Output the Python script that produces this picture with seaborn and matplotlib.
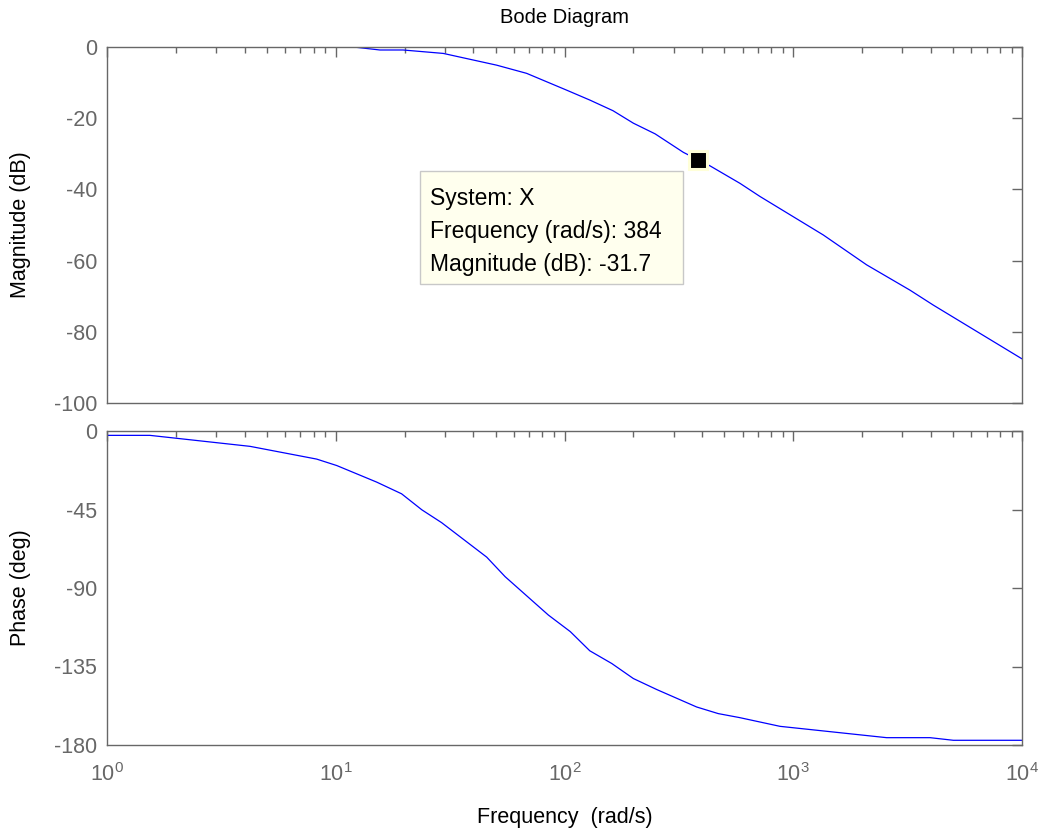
import matplotlib
matplotlib.use("Agg")
import matplotlib.pyplot as plt
from matplotlib.patches import Rectangle
from matplotlib.ticker import LogLocator, FixedLocator, NullFormatter
import numpy as np
import pandas as pd
import seaborn as sns

# Frequency response samples (rad/s, dB, deg)
mag_freq = [1, 12.35, 15.6, 19.7, 29.5, 50.5, 68.3, 102, 129, 163, 200, 249, 331,
            384, 433, 585, 716, 1353, 2094, 3238, 4095, 10000]
mag_db = [0, -0.1, -0.84, -0.84, -1.8, -5.1, -7.4, -12.1, -14.9, -17.9, -21.4, -24.4,
          -29.6, -31.7, -33.4, -38.3, -42.0, -52.8, -61.2, -68.3, -72.5, -87.6]

phase_freq = [1, 1.54, 4.22, 8.25, 10.1, 15.1, 19.4, 23.8, 29.0, 45.7, 55, 85, 106,
              129, 161, 200, 253, 378, 470, 583, 875, 2560, 3963, 5011, 10000]
phase_deg = [-2.5, -2.5, -8.8, -16.1, -19.8, -29.3, -36.0, -45.2, -52.5, -72.3, -83.5,
             -105.5, -115, -126, -133.3, -141.9, -148.2, -158.2, -162, -164.3, -169.3,
             -175.8, -175.8, -177.3, -177.3]

mag_ticks = [0, -20, -40, -60, -80, -100]
phase_ticks = [0, -45, -90, -135, -180]

tip_system = "X"
tip_freq = 384
tip_mag = -31.7

sns.set_theme(style="white")
plt.rcParams["font.family"] = ["Liberation Sans", "DejaVu Sans"]
plt.rcParams["mathtext.fontset"] = "custom"
plt.rcParams["mathtext.rm"] = "Liberation Sans"
plt.rcParams["mathtext.it"] = "Liberation Sans:italic"
plt.rcParams["axes.unicode_minus"] = False

GRAY = "#676767"
FS_TICK = 15.5
FS_LABEL = 15.5
FS_TIP = 16.5

fig = plt.figure(figsize=(10.41, 8.34), dpi=100)
W, H = 1041, 834
x0, x1 = 107, 1022
ax_mag = fig.add_axes([x0 / W, 1 - 403 / H, (x1 - x0) / W, (403 - 47) / H])
ax_ph = fig.add_axes([x0 / W, 1 - 745 / H, (x1 - x0) / W, (745 - 431) / H])

df_mag = pd.DataFrame({"freq": mag_freq, "mag": mag_db})
df_ph = pd.DataFrame({"freq": phase_freq, "phase": phase_deg})

sns.lineplot(data=df_mag, x="freq", y="mag", ax=ax_mag, color="#0000ff",
             linewidth=0.9, sort=False, estimator=None)
sns.lineplot(data=df_ph, x="freq", y="phase", ax=ax_ph, color="#0000ff",
             linewidth=0.9, sort=False, estimator=None)

for ax in (ax_mag, ax_ph):
    ax.set_xscale("log")
    ax.set_xlim(1, 1e4)
    ax.xaxis.set_major_locator(LogLocator(base=10, numticks=10))
    ax.xaxis.set_minor_locator(LogLocator(base=10, subs=np.arange(2, 10), numticks=20))
    ax.xaxis.set_minor_formatter(NullFormatter())
    ax.tick_params(which="major", direction="in", length=7, width=1.0, color=GRAY,
                   labelcolor=GRAY, labelsize=FS_TICK, top=True, right=True, pad=7)
    ax.tick_params(which="minor", direction="in", length=4, width=1.0, color=GRAY,
                   top=True, right=True)
    for s in ax.spines.values():
        s.set_color(GRAY)
        s.set_linewidth(1.0)
    ax.set_xlabel("")
    ax.set_ylabel("")

ax_mag.set_ylim(-100, 0)
ax_mag.yaxis.set_major_locator(FixedLocator(mag_ticks))
ax_mag.xaxis.set_major_formatter(NullFormatter())

ax_ph.set_ylim(-180, 0)
ax_ph.yaxis.set_major_locator(FixedLocator(phase_ticks))
ax_ph.tick_params(axis="x", which="major", pad=13)

# Labels
ax_mag.set_ylabel("Magnitude (dB)", fontsize=FS_LABEL, color="black")
ax_ph.set_ylabel("Phase (deg)", fontsize=FS_LABEL, color="black")
for ax in (ax_mag, ax_ph):
    ax.yaxis.set_label_coords(-0.095, 0.5)
    ax.yaxis.label.set_verticalalignment("center")
ax_ph.set_xlabel("Frequency  (rad/s)", fontsize=FS_LABEL, color="black")
ax_ph.xaxis.set_label_coords(0.5, -0.232)
ax_ph.xaxis.label.set_verticalalignment("center")
ax_mag.text(0.5, 1.084, "Bode Diagram", transform=ax_mag.transAxes, ha="center",
            va="center", fontsize=14.5, color="black")

# Data tip: marker and box
ax_mag.plot([tip_freq], [tip_mag], marker="s", markersize=13.5, markerfacecolor="black",
            markeredgecolor="#ffffd8", markeredgewidth=2.2, zorder=5, clip_on=False)
box = Rectangle((0.342, 0.334), 0.288, 0.318, transform=ax_mag.transAxes,
                facecolor="#ffffee", edgecolor="#c8c8c8", linewidth=1.0, zorder=4)
ax_mag.add_patch(box)
tip_lines = [f"System: {tip_system}",
             f"Frequency (rad/s): {tip_freq:g}",
             f"Magnitude (dB): {tip_mag:g}"]
for i, line in enumerate(tip_lines):
    ax_mag.text(0.353, 0.575 - i * 0.093, line, transform=ax_mag.transAxes,
                ha="left", va="center", fontsize=FS_TIP, color="black", zorder=6)

fig.savefig("out.png", dpi=100, facecolor="white")
